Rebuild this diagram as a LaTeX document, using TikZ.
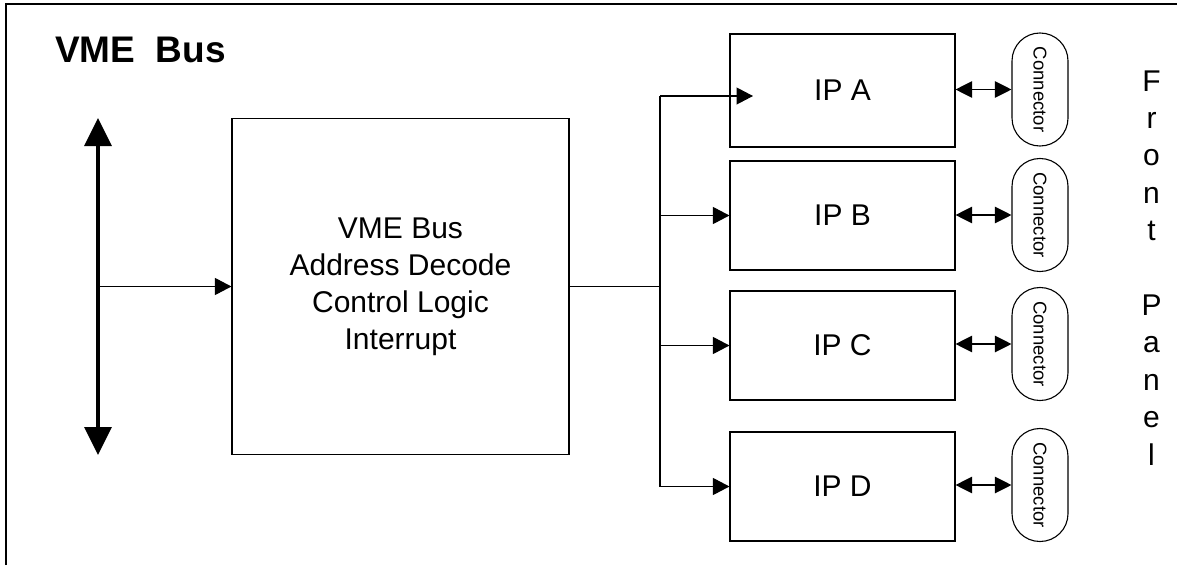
\documentclass[tikz,border=0pt]{standalone}
\usepackage{fontspec}
\setmainfont{Liberation Sans}
\usepackage{graphicx}
\usetikzlibrary{arrows.meta}
\begin{document}
\begin{tikzpicture}[x=1pt,y=-1pt,
  frame/.style={line width=1.3pt},
  mainbox/.style={draw, line width=1.1pt, minimum width=337pt, minimum height=336pt, inner sep=0pt,
    align=center, font=\fontsize{30}{37}\selectfont},
  ipbox/.style={draw, line width=1.1pt, minimum width=225pt, inner sep=0pt,
    font=\fontsize{30}{36}\selectfont},
  conn/.style={draw, line width=1.1pt, minimum width=56pt, minimum height=113pt, inner sep=0pt,
    rounded corners=27.9pt, font=\fontsize{18.5}{22}\selectfont},
  wire/.style={line width=1.1pt},
  arr/.style={line width=1.1pt, -{Triangle[length=16.5pt,width=17pt]}},
  darr/.style={line width=1.1pt, {Triangle[length=16.5pt,width=16.5pt]}-{Triangle[length=16.5pt,width=16.5pt]}},
  bus/.style={line width=3.6pt, {Triangle[length=28pt,width=27pt]}-{Triangle[length=28pt,width=27pt]}},
  letter/.style={anchor=base, inner sep=0pt, font=\fontsize{30}{36}\selectfont}
]
\useasboundingbox (0,0) rectangle (1177,565);

% outer frame (only top and left edges visible)
\coordinate (frBL) at (6,565);
\coordinate (frTL) at (6,4);
\coordinate (frTR) at (1177,4);
\draw[frame] (frBL) -- (frTL) -- (frTR);

% title
\node[anchor=base west, inner sep=0pt, font=\fontsize{37}{44}\selectfont\bfseries] (title) at (55,62) {VME\ \ Bus};

% VME bus arrow
\coordinate (busTop) at (98,118);
\coordinate (busBot) at (98,455);
\draw[bus] (busTop) -- (busBot);

% main logic block
\node[mainbox] (main) at (400.5,286.5) {VME Bus\\Address Decode\\Control Logic\\Interrupt};

\coordinate (tap) at (98,286.5);
\draw[arr] (tap) -- (main.west);

% IP modules
\node[ipbox, minimum height=113pt] (ipA) at (842.5,90.5) {IP A};
\node[ipbox, minimum height=109pt] (ipB) at (842.5,215.5) {IP B};
\node[ipbox, minimum height=109pt] (ipC) at (842.5,345.5) {IP C};
\node[ipbox, minimum height=109pt] (ipD) at (842.5,486.5) {IP D};

% distribution trunk
\coordinate (junc) at (660,286.5);
\coordinate (trA) at (660,96);
\coordinate (tipA) at (753,96);
\coordinate (trD) at (660,486.5);
\draw[wire] (main.east) -- (junc);
\draw[wire] (trA) -- (trD);
\draw[arr] (trA) -- (tipA);
\draw[arr] (junc |- ipB.west) -- (ipB.west);
\draw[arr] (junc |- ipC.west) -- (ipC.west);
\draw[arr] (trD) -- (ipD.west);

% connectors
\node[conn] (conA) at (1040,89.5) {\rotatebox{-90}{Connector}};
\node[conn] (conB) at (1040,215) {\rotatebox{-90}{Connector}};
\node[conn] (conC) at (1040,344) {\rotatebox{-90}{Connector}};
\node[conn] (conD) at (1040,485) {\rotatebox{-90}{Connector}};

\draw[darr] (ipA.east |- conA.west) -- (conA.west);
\draw[darr] (ipB.east |- conB.west) -- (conB.west);
\draw[darr] (ipC.east |- conC.west) -- (conC.west);
\draw[darr] (ipD.east |- conD.west) -- (conD.west);

% Front Panel label (vertical letters)
\foreach \ch/\k in {F/0,r/1,o/2,n/3,t/4,P/6,a/7,n/8,e/9,l/10}{
  \node[letter] (fp\k) at (1151.5,{91+37.4*\k}) {\ch};
}
\end{tikzpicture}
\end{document}
